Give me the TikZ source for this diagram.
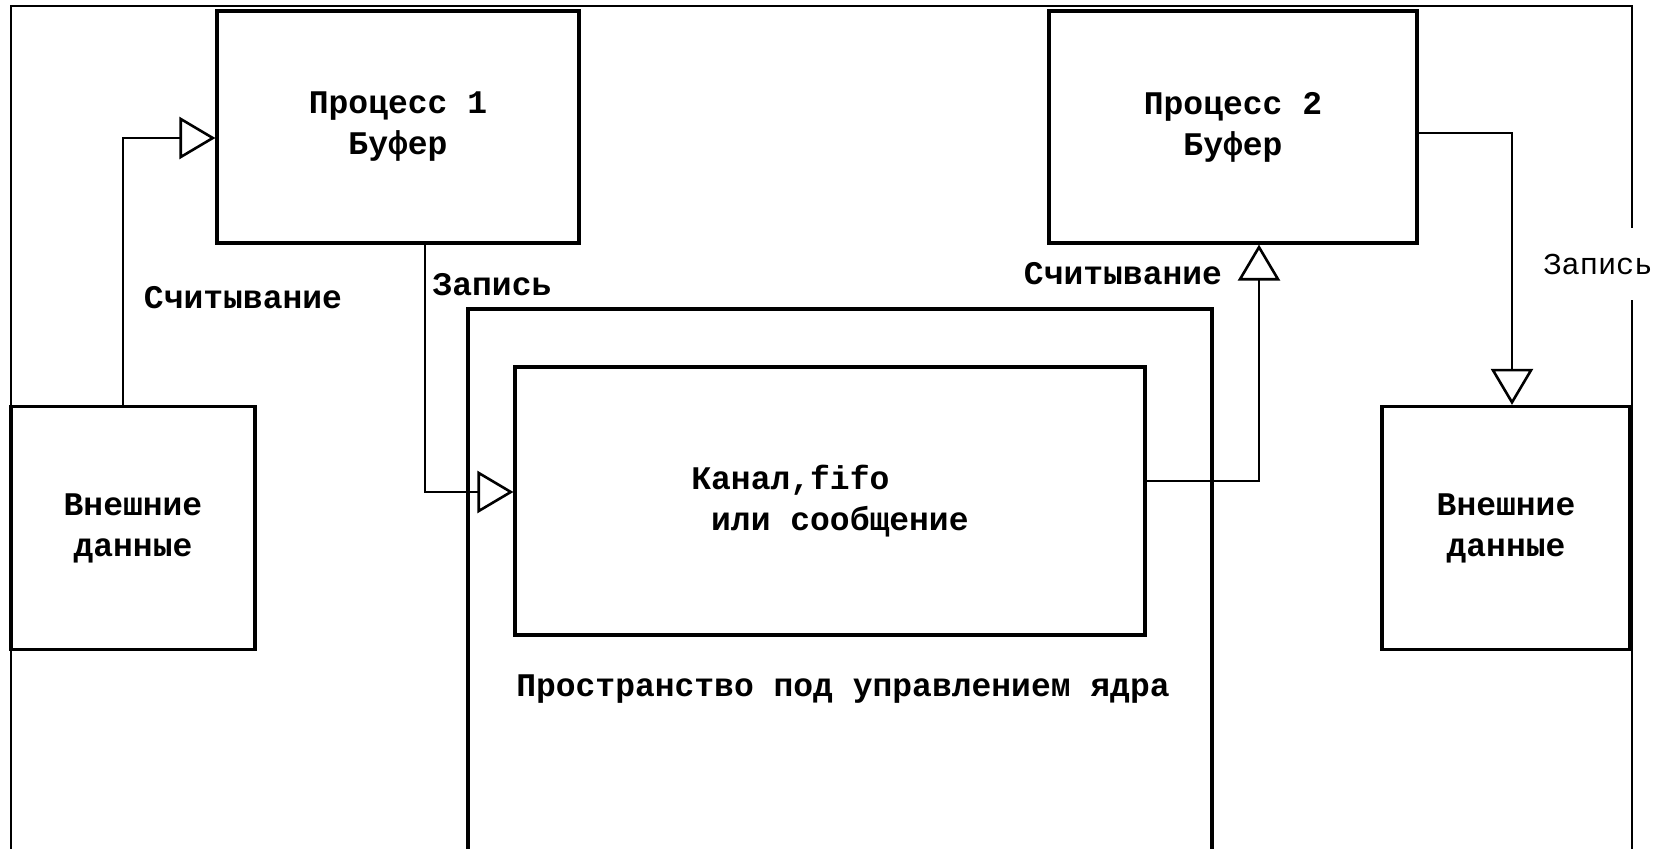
\documentclass[tikz,border=0pt]{standalone}
\usepackage{fontspec}
\usepackage{tikz}
\usetikzlibrary{arrows.meta,calc,positioning}
\newfontfamily\monofont{Liberation Mono}
\tikzset{
  rotulo/.style={font=\monofont\bfseries\fontsize{16.5}{20.5}\selectfont},
  caja/.style={draw,line width=1.6pt,inner sep=0pt,align=center,rotulo},
  flecha/.style={-{Triangle[open,length=18pt,width=21pt]},line width=1.3pt},
  marco/.style={line width=1.3pt}
}

\begin{document}
\begin{tikzpicture}[x=0.5pt,y=-0.5pt]
\useasboundingbox[fill=white] (0,0) rectangle (1667,849);
% marco exterior y espacio del nucleo
\draw[marco] (11,849) |- (1632,6) -- (1632,849);
\draw[marco,line width=1.6pt] (468,849) |- (1212,309) -- (1212,849);
\node[rotulo] (nucleo) at (843,689) {Пространство под управлением ядра};
\node[fill=white,inner xsep=1pt,inner ysep=13pt,font=\monofont\fontsize{15.2}{18}\selectfont] (escr2) at (1598,264) {Запись};
% cajas
\node[caja,minimum width=181pt,minimum height=116pt] (proc1) at (398,127) {Процесс 1\\Буфер};
\node[caja,minimum width=184pt,minimum height=116pt] (proc2) at (1233,127) {Процесс 2\\Буфер};
\node[caja,minimum width=122pt,minimum height=121.5pt] (ext1) at (133,528) {Внешние\\данные};
\node[caja,minimum width=124pt,minimum height=121.5pt] (ext2) at (1506,528) {Внешние\\данные};
\node[caja,minimum width=315pt,minimum height=134pt,align=left] (chan) at (830,501) {Канал,fifo\\\hspace*{0.6em}или сообщение};
% flechas
\draw[flecha] ([xshift=-5pt]ext1.north) |- ([yshift=-5.5pt]proc1.west);
\draw[flecha] ([xshift=13.5pt]proc1.south) |- ([yshift=4.5pt]chan.west);
\draw[flecha] ([yshift=10pt]chan.east) -| ([xshift=13pt]proc2.south);
\draw[flecha] ([yshift=-3pt]proc2.east) -| ([xshift=3pt]ext2.north);
\node[rotulo] (leer1) at (243,298) {Считывание};
\node[rotulo] (escr1) at (492,285) {Запись};
\node[rotulo] (leer2) at (1123,274) {Считывание};
\end{tikzpicture}
\end{document}
